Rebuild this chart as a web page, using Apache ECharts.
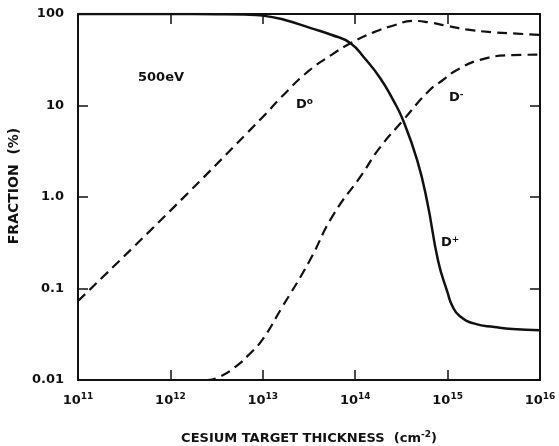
<!DOCTYPE html>
<html>
<head>
<meta charset="utf-8">
<script src="https://cdn.jsdelivr.net/npm/echarts@6/dist/echarts.min.js"></script>
<style>
  html, body { margin: 0; padding: 0; background: #fff; }
  #chart { width: 559px; height: 446px; }
</style>
</head>
<body>
<div id="chart"></div>
<script>
// Charge-state fractions of a 500 eV deuterium beam vs. cesium target thickness

// Target thickness values (cm^-2) and fractions (%) for each charge state
const dPlusThickness = [1e11, 1e12, 3.16e12, 6.3e12, 1e13, 1.74e13, 3.3e13, 5.6e13, 8.9e13,
  1.26e14, 1.86e14, 2.57e14, 3.3e14, 4.7e14, 6.0e14, 7.9e14, 1e15, 1.12e15, 1.35e15,
  2e15, 3.2e15, 5e15, 1e16];
const dPlusFraction = [100, 100, 99.5, 98.5, 96, 86, 70, 59, 48,
  33, 20, 11.5, 6.9, 2.5, 0.9, 0.2, 0.09, 0.065, 0.05,
  0.041, 0.038, 0.036, 0.035];

const dZeroThickness = [1e11, 1e12, 1e13, 1.58e13, 3.16e13, 5.6e13, 8.9e13,
  1.58e14, 2.5e14, 4.3e14, 6.3e14, 1e15, 1.58e15, 3.16e15, 5.6e15, 1e16];
const dZeroFraction = [0.073, 0.71, 7.5, 12.3, 24, 36, 48,
  63, 74, 84, 81, 74, 68, 63, 61, 59];

const dMinusThickness = [1e11, 1e12, 2.5e12, 3.5e12, 5e12, 7.1e12, 1e13, 1.58e13, 3.16e13,
  5.75e13, 1.2e14, 1.78e14, 3.3e14, 6.3e14, 8.9e14, 1.26e15, 2.24e15, 5e15, 1e16];
const dMinusFraction = [0.01, 0.01, 0.01, 0.011, 0.0138, 0.019, 0.028, 0.06, 0.195,
  0.63, 1.8, 3.3, 6.9, 14.5, 19, 24.4, 31.5, 35.5, 36];

// Tick labels
const yTickValues = [0.01, 0.1, 1, 10, 100];
const yTickLabels = ['0.01', '0.1', '1.0', '10', '100'];

const FONT = 'DejaVu Sans';
const INK = '#111';

function pairs(xs, ys) { return xs.map((x, i) => [x, ys[i]]); }

const chart = echarts.init(document.getElementById('chart'), null, { renderer: 'canvas' });

const axisLine = { show: true, lineStyle: { color: INK, width: 2 } };
const tickIn = { show: true, inside: true, length: 10, lineStyle: { color: INK, width: 1.5 } };

const supRich = {
  b: { fontFamily: FONT, fontWeight: 'bold', fontSize: 13, color: INK },
  s: { fontFamily: FONT, fontWeight: 'bold', fontSize: 9, color: INK, padding: [0, 0, 8, 0] }
};

const lineBase = { type: 'line', showSymbol: false, symbol: 'none', smooth: 0.5, z: 3 };

const labelRich = {
  b: { fontFamily: FONT, fontWeight: 'bold', fontSize: 13, fill: INK },
  s: { fontFamily: FONT, fontWeight: 'bold', fontSize: 9, fill: INK, padding: [0, 0, 6, 0] }
};

chart.setOption({
  animation: false,
  backgroundColor: '#fff',
  grid: { left: 78, right: 19, top: 14, bottom: 66, containLabel: false, outerBoundsMode: 'none' },
  xAxis: [
    {
      type: 'log', logBase: 10, min: 1e11, max: 1e16, position: 'bottom',
      axisLine, axisTick: tickIn, splitLine: { show: false }, minorTick: { show: false },
      axisLabel: {
        margin: 12,
        formatter: v => '{b|10}{s|' + Math.round(Math.log10(v)) + '}',
        rich: supRich
      },
      name: '{t|CESIUM TARGET THICKNESS  (cm}{s|-2}{t|)}',
      nameLocation: 'middle', nameGap: 50,
      nameTextStyle: {
        rich: {
          t: { fontFamily: FONT, fontWeight: 'bold', fontSize: 13, color: INK },
          s: { fontFamily: FONT, fontWeight: 'bold', fontSize: 9, color: INK, padding: [0, 0, 8, 0] }
        }
      }
    },
    {
      type: 'log', logBase: 10, min: 1e11, max: 1e16, position: 'top',
      axisLine, axisTick: tickIn, axisLabel: { show: false }, splitLine: { show: false }
    }
  ],
  yAxis: [
    {
      type: 'log', logBase: 10, min: 0.01, max: 100, position: 'left',
      axisLine, axisTick: tickIn, splitLine: { show: false }, minorTick: { show: false },
      axisLabel: {
        margin: 14,
        fontFamily: FONT, fontWeight: 'bold', fontSize: 13, color: INK,
        formatter: v => {
          const i = yTickValues.findIndex(t => Math.abs(Math.log10(t) - Math.log10(v)) < 1e-6);
          return i >= 0 ? yTickLabels[i] : '';
        }
      },
      name: 'FRACTION  (%)',
      nameLocation: 'middle', nameGap: 54, nameRotate: 90,
      nameTextStyle: { fontFamily: FONT, fontWeight: 'bold', fontSize: 14, color: INK, padding: [0, 0, 0, 22] }
    },
    {
      type: 'log', logBase: 10, min: 0.01, max: 100, position: 'right',
      axisLine, axisTick: tickIn, axisLabel: { show: false }, splitLine: { show: false }
    }
  ],
  series: [
    Object.assign({}, lineBase, {
      name: 'D+', data: pairs(dPlusThickness, dPlusFraction),
      lineStyle: { color: INK, width: 2.5, type: 'solid' }
    }),
    Object.assign({}, lineBase, {
      name: 'D0', data: pairs(dZeroThickness, dZeroFraction),
      lineStyle: { color: INK, width: 2.2, type: [10, 6] }
    }),
    Object.assign({}, lineBase, {
      name: 'D-', data: pairs(dMinusThickness, dMinusFraction),
      lineStyle: { color: INK, width: 2.2, type: [10, 6] }
    })
  ],
  graphic: [
    {
      type: 'text', left: 138, top: 71,
      style: { text: '500eV', font: 'bold 13px "DejaVu Sans"', fill: INK }
    },
    { type: 'text', left: 296, top: 97, style: { text: '{b|D}{s|o}', rich: labelRich } },
    { type: 'text', left: 449, top: 90, style: { text: '{b|D}{s|-}', rich: labelRich } },
    { type: 'text', left: 441, top: 235, style: { text: '{b|D}{s|+}', rich: labelRich } }
  ]
});
</script>
</body>
</html>
